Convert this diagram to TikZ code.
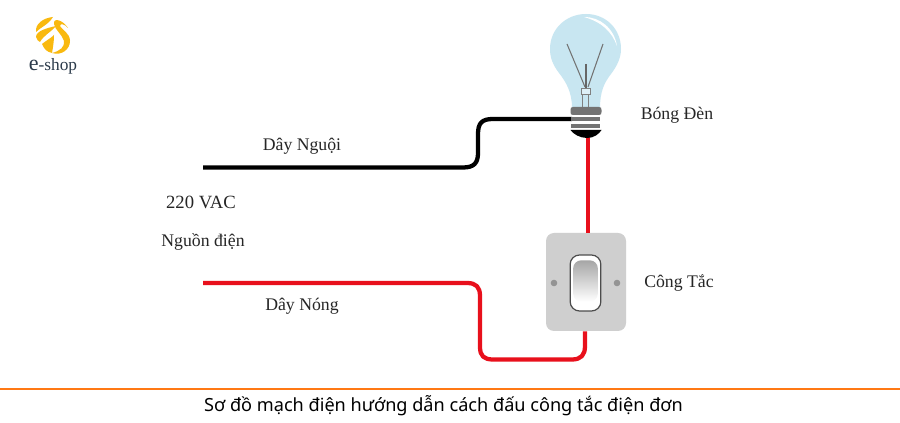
\documentclass[tikz,border=0pt]{standalone}
\usepackage{fontspec}
\setmainfont{Liberation Serif}
\newfontfamily\capfont{Noto Sans}
\usetikzlibrary{shadings}
\definecolor{wirered}{HTML}{E8101C}
\definecolor{bulbblue}{HTML}{C8E6F1}
\definecolor{plategray}{HTML}{CFCFCF}
\definecolor{logoyellow}{HTML}{F9B90F}
\definecolor{logotext}{HTML}{2B3A4A}
\definecolor{footerorange}{RGB}{255,120,20}
\tikzset{
  wire/.style={line width=3.2pt,line join=round},
  hotwire/.style={wire,draw=wirered},
  coldwire/.style={wire,draw=black},
  lab/.style={font=\fontsize{13.3pt}{15pt}\selectfont,text=black!85,inner sep=0pt},
  base/.style={fill=black!55,draw=none},
  filament/.style={draw=black!55,line width=0.8pt},
}
\begin{document}
\begin{tikzpicture}[x=0.75pt,y=-0.75pt]
\useasboundingbox (0,0) rectangle (900,423);
\fill[white] (0,0) rectangle (900,423);

% bulb glass
\fill[bulbblue] (572,108) .. controls (572,92) and (566,82) .. (559,73)
  .. controls (553,65) and (550,58) .. (550,49)
  .. controls (550,29) and (566,14) .. (586,14)
  .. controls (606,14) and (621,29) .. (621,49)
  .. controls (621,58) and (617,66) .. (611,74)
  .. controls (604,83) and (600,92) .. (600,108) -- cycle;
\fill[white] (584,17) .. controls (600,17) and (614,28) .. (617,46)
  .. controls (612,32) and (602,22) .. (584,17) -- cycle;
% filament
\draw[filament] (567,44) -- (585,87);
\draw[filament] (603,44) -- (588,87);
\draw[draw=black!60,line width=1.5pt] (585.5,64) -- (585.5,88);
\draw[draw=black!50,line width=0.7pt,fill=bulbblue!60] (581,88) rectangle (590,94);
\draw[draw=black!50,line width=0.7pt] (582.5,94) -- (582.5,107) (588.5,94) -- (588.5,107);

% switch plate
\node[draw=none,fill=plategray,rounded corners=6pt,minimum width=60pt,minimum height=73.5pt,inner sep=0pt] (plate) at (586,282) {};
\fill[black!42] (554,283) circle (3.3);
\fill[black!42] (617,283) circle (3.3);
\node[draw=black!70,line width=0.9pt,fill=white,rounded corners=7pt,minimum width=23pt,minimum height=42pt,inner sep=0pt] (rocker) at (585.5,283) {};
\node[rounded corners=6pt,minimum width=18.5pt,minimum height=31pt,inner sep=0pt,top color=black!35,bottom color=white] (paddle) at (585.5,281) {};

% terminals
\coordinate (coldstart) at (203,167.5);
\coordinate (coldend) at (572,119);
\coordinate (hotstart) at (203,283);
\coordinate (lampfoot) at (587.7,136);

% wires
\draw[coldwire] (coldstart) -- (463,167.5) .. controls (474,167.5) and (478,163) .. (478,153)
  -- (478,134) .. controls (478,123) and (482,119) .. (493,119) -- (coldend);
\draw[hotwire] (hotstart) -- (467,283) .. controls (476,283) and (480,287) .. (480,296)
  -- (480,347) .. controls (480,356) and (484,359.5) .. (493,359.5)
  -- (572,359.5) .. controls (581,359.5) and (585,355) .. (585,346) -- (plate.south -| 585,0);
\draw[hotwire] (lampfoot) -- (plate.north -| lampfoot);

% lamp base
\fill[base] (573,107) -- (599,107) .. controls (601,107) and (601.5,108) .. (601.5,110) -- (601.5,112) .. controls (601.5,114) and (601,115) .. (599,115) -- (573,115) .. controls (571,115) and (570.5,114) .. (570.5,112) -- (570.5,110) .. controls (570.5,108) and (571,107) .. (573,107) -- cycle;
\fill[base] (571,117) rectangle (600,121.5);
\fill[base] (571,124) rectangle (600,128.5);
\fill[black] (570.5,130) -- (601.5,130) .. controls (599,134) and (594,138) .. (587,138) .. controls (580,138) and (573,134) .. (570.5,130) -- cycle;

% labels
\node[lab] (lbulb) at (677,115) {Bóng Đèn};
\node[lab] (lsw) at (679,282.5) {Công Tắc};
\node[lab] (lcold) at (302,146) {Dây Nguội};
\node[lab] (lhot) at (302,306) {Dây Nóng};
\node[lab,font=\fontsize{14pt}{15pt}\selectfont] (lvac) at (201,202) {220 VAC};
\node[lab] (lsrc) at (203,241.5) {Nguồn điện};

% logo
\fill[logoyellow] (53,17) .. controls (43,18) and (35,24) .. (36,32) .. controls (41,27) and (48,25) .. (53,17) -- cycle;
\fill[logoyellow] (56,26) .. controls (47,28) and (36,31) .. (36,37) .. controls (37,40) and (38,41) .. (40,42) .. controls (44,35) and (50,33) .. (56,26) -- cycle;
\fill[logoyellow] (42,44) .. controls (47,40) and (51,38) .. (54,35) .. controls (54,42) and (53,47) .. (52,53) .. controls (47,52) and (44,49) .. (42,44) -- cycle;
\fill[logoyellow] (68,28) .. controls (63,20) and (53,17) .. (54,24) .. controls (55,30) and (62,34) .. (64,41) .. controls (65,47) and (60,51) .. (52,53) .. controls (62,56) and (70,49) .. (70,41) .. controls (70,33) and (62,30) .. (60,26) .. controls (60,23) and (65,24) .. (68,28) -- cycle;
\node[inner sep=0pt,text=logotext,font=\fontsize{13pt}{15pt}\selectfont] (logotxt) at (53,66) {{\fontsize{16.5pt}{15pt}\selectfont e}-shop};

% footer
\fill[footerorange] (0,388.5) rectangle (900,390.5);
\node[inner sep=0pt,text=black,font=\capfont\fontsize{13.6pt}{15pt}\selectfont] (caption) at (443.5,406) {Sơ đồ mạch điện hướng dẫn cách đấu công tắc điện đơn};
\end{tikzpicture}
\end{document}
